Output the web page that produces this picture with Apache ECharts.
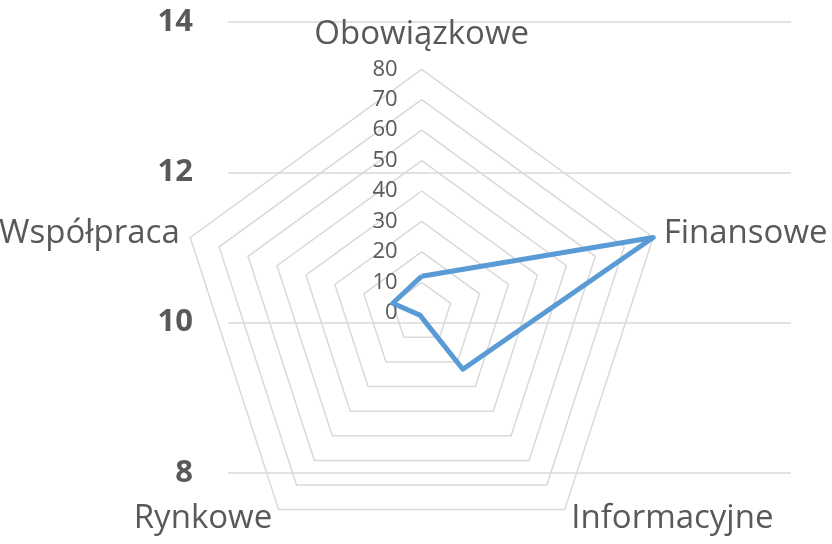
<!DOCTYPE html>
<html>
<head>
<meta charset="utf-8">
<script src="https://cdn.jsdelivr.net/npm/echarts@6/dist/echarts.min.js"></script>
<style>
html,body{margin:0;padding:0;background:#fff;}
#chart{width:832px;height:544px;}
</style>
</head>
<body>
<div id="chart"></div>
<script>
// Categories (clockwise from top, as in the reference)
var categories = ['Obowiązkowe', 'Finansowe', 'Informacyjne', 'Rynkowe', 'Współpraca'];
// Series values
var values = [12, 80, 23, 1, 10];
// Radial axis scale
var radialMax = 80;
var radialSplits = 8;
// Background value axis (left)
var leftAxisMin = 8;
var leftAxisMax = 14;
var leftAxisStep = 2;

// ECharts radar lays indicators counter-clockwise; reorder to get clockwise layout
var order = [0];
for (var i = categories.length - 1; i >= 1; i--) order.push(i);

var textColor = '#595959';
var gridColor = '#d9d9d9';
var font = 'Open Sans';

var indicators = order.map(function (k, j) {
  var ind = { name: categories[k], max: radialMax, min: 0 };
  if (j === 0) { ind.axisLabel = { show: true }; ind.nameGap = 18; }
  return ind;
});
var radarValues = order.map(function (k) { return values[k]; });

var chart = echarts.init(document.getElementById('chart'), null, { renderer: 'canvas' });
chart.setOption({
  animation: false,
  backgroundColor: '#ffffff',
  grid: { left: 228, right: 41, top: 22, bottom: 71, containLabel: false },
  xAxis: { type: 'category', data: [''], show: false },
  yAxis: {
    type: 'value', min: leftAxisMin, max: leftAxisMax, interval: leftAxisStep,
    axisLine: { show: false }, axisTick: { show: false },
    axisLabel: { color: textColor, fontFamily: font, fontSize: 31, fontWeight: 'bold', margin: 35 },
    splitLine: { lineStyle: { color: gridColor, width: 1.5 } }
  },
  radar: {
    center: [421.7, 312.7],
    radius: 243.4,
    startAngle: 90,
    shape: 'polygon',
    splitNumber: radialSplits,
    indicator: indicators,
    nameGap: 11,
    axisName: { color: textColor, fontFamily: font, fontSize: 33 },
    axisLine: { show: false },
    axisTick: { show: false },
    axisLabel: { show: false, color: textColor, fontFamily: font, fontSize: 22, margin: 24 },
    splitArea: { show: false },
    splitLine: { lineStyle: { color: gridColor, width: 1.5 } }
  },
  series: [{
    type: 'radar',
    symbol: 'none',
    lineStyle: { color: '#5b9bd5', width: 5 },
    itemStyle: { color: '#5b9bd5' },
    data: [{ value: radarValues, name: 'Seria' }]
  }]
});
</script>
</body>
</html>
